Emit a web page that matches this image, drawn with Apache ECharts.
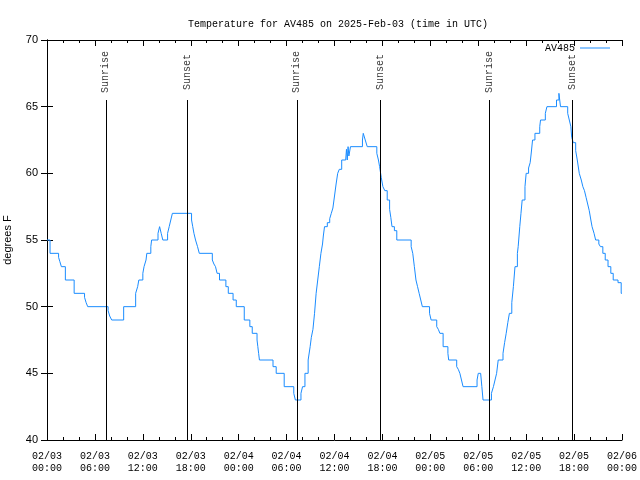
<!DOCTYPE html>
<html>
<head>
<meta charset="utf-8">
<script src="https://cdn.jsdelivr.net/npm/echarts@6/dist/echarts.min.js"></script>
<style>html,body{margin:0;padding:0;background:#fff}#c{width:640px;height:480px}</style>
</head>
<body>
<div id="c"></div>
<script>
// Hours since 2025-02-03 00:00 UTC
var times = [0,0.38,1.45,1.6,1.8,2.3,3.4,4.7,4.9,5.1,7.65,7.85,8.1,9.6,11.1,11.35,11.5,12.0,12.15,12.4,12.5,13.0,13.1,13.9,14.1,14.3,14.5,15.1,15.3,15.5,15.7,
18.1,18.25,18.4,18.6,18.85,19.07,20.7,20.9,21.1,21.3,21.6,22.4,22.7,23.3,23.7,24.7,25.4,25.7,26.3,26.4,26.5,26.6,28.3,28.7,29.7,30.9,31.1,
31.8,32.0,32.3,32.7,32.95,33.1,33.3,33.5,33.7,33.9,34.1,34.3,34.5,34.6,34.75,35.1,35.4,35.6,35.8,36.0,36.2,36.4,36.6,36.9,37.4,37.5,37.6,37.7,37.8,38.0,39.5,39.6,39.85,40.1,
41.3,41.5,41.65,41.85,42.06,42.3,42.6,42.9,43.05,43.2,43.5,43.8,45.6,45.8,46.0,46.2,46.4,46.6,46.8,47.0,47.9,48.1,48.8,49.0,49.2,49.6,50.2,50.3,51.3,51.5,51.7,51.9,52.1,
53.85,54.0,54.3,54.45,54.6,55.65,55.9,56.1,56.3,56.5,57.1,57.3,57.5,57.7,57.9,58.2,58.4,58.6,58.9,59.0,59.2,59.35,59.5,59.85,60.0,60.3,60.5,60.65,60.8,61.1,61.7,61.8,62.4,62.6,63.8,64.1,64.3,
65.2,65.4,65.6,65.7,65.9,66.2,66.4,66.65,66.9,67.1,67.3,67.5,67.7,67.9,68.1,68.25,68.5,68.7,69.1,69.3,69.6,69.9,70.25,70.6,70.9,71.5,71.9,72];
var temps = [55,54,53.7,53.4,53,52,51,50.7,50.3,50,49.7,49.3,49,50,51,51.5,52,52.5,53,53.5,54,54.5,55,55.5,56,55.5,55,55.5,56,56.5,57,
56.5,56,55.5,55,54.5,54,53.5,53.2,53,52.5,52,51.5,51,50.5,50,49,48.5,48,47.5,47,46.5,46,45.5,45,44,43.5,43,
43.5,44,45,46,47,47.7,48.3,49.5,51,52,53,54,54.7,55.3,56,56.3,56.6,57,57.4,58.3,59.2,60,60.3,61,61,61.8,61,62,61.3,62,62.5,63,62.5,62,
61.5,61,60.5,59.7,59,58.7,58,57.3,56.7,56,55.7,55,54.5,54,53,52,51.5,51,50.5,50,49.5,49,48.5,48.3,48,47,46.5,46,45.5,45.3,45,44.5,44,
44.5,45,45,44,43,43.5,44,44.5,45,46,46.5,47.3,48,48.8,49.5,50.3,51.5,53,54,54.5,56,57,58,59,60,60.4,60.8,61.6,62.5,63,63.5,64,64.5,65,65.5,66,65,
64.5,64,63.5,62.7,62.3,61.7,61,60,59.5,59,58.7,58.2,57.7,57.2,56.5,56,55.5,55,54.7,54.5,54,53.5,53,52.5,52,51.8,51,51];

var sunTimes = [7.36, 17.6, 31.28, 41.7, 55.36, 65.8];
var sunLabels = ['Sunrise', 'Sunset', 'Sunrise', 'Sunset', 'Sunrise', 'Sunset'];
var xTickLabels = ['02/03\n00:00','02/03\n06:00','02/03\n12:00','02/03\n18:00','02/04\n00:00','02/04\n06:00','02/04\n12:00','02/04\n18:00','02/05\n00:00','02/05\n06:00','02/05\n12:00','02/05\n18:00','02/06\n00:00'];
var yTicks = [40,45,50,55,60,65,70];

var mono = 'Liberation Mono';
var lineData = times.map(function(t,i){return [t, temps[i]];});
var sunData = sunTimes.map(function(t,i){return {value:[t, 67.6], name: sunLabels[i]};});
var sunLines = sunTimes.map(function(t){return [{coord:[t,40]},{coord:[t,65.5]}];});

function xAxisCfg(pos, showLabel){
  return {
    type:'value', position:pos, min:0, max:72, interval:6,
    axisLine:{show:true, lineStyle:{color:'#000', width:1}},
    axisTick:{show:true, inside:true, length:6, lineStyle:{color:'#000'}},
    minorTick:{show:true, splitNumber:3, length:3, lineStyle:{color:'#000'}},
    splitLine:{show:false},
    axisLabel:{show:showLabel, color:'#000', fontFamily:mono, fontSize:10, lineHeight:12, margin:10,
      formatter:function(v){return xTickLabels[Math.round(v/6)];}}
  };
}
function yAxisCfg(pos, showLabel){
  return {
    type:'value', position:pos, min:40, max:70, interval:5,
    name: showLabel ? 'degrees F' : '', nameLocation:'middle', nameGap:34,
    nameTextStyle:{color:'#000', fontFamily:'Liberation Sans', fontSize:11},
    axisLine:{show:true, lineStyle:{color:'#000', width:1}},
    axisTick:{show:true, inside:true, length:6, lineStyle:{color:'#000'}},
    splitLine:{show:false},
    axisLabel:{show:showLabel, color:'#000', fontFamily:'Liberation Sans', fontSize:11, margin:9,
      formatter:function(v){return yTicks.indexOf(v)>=0 ? String(v) : '';}}
  };
}

var chart = echarts.init(document.getElementById('c'), null, {renderer:'canvas'});
chart.setOption({
  animation:false,
  backgroundColor:'#fff',
  title:{text:'Temperature for AV485 on 2025-Feb-03 (time in UTC)', left:333, top:14, textAlign:'center',
    textStyle:{fontFamily:mono, fontSize:10, fontWeight:'normal', color:'#000'}},
  grid:{left:47, right:18, top:40, bottom:40, containLabel:false, outerBoundsMode:'none'},
  legend:{data:['AV485'], right:25, top:38, align:'right', itemWidth:30, itemHeight:1, itemGap:5,
    icon:'path://M0,0L30,0L30,1L0,1Z',
    itemStyle:{color:'#1a8cff'},
    textStyle:{fontFamily:mono, fontSize:10, color:'#000'}},
  xAxis:[xAxisCfg('bottom', true), xAxisCfg('top', false)],
  yAxis:[yAxisCfg('left', true), yAxisCfg('right', false)],
  series:[
    {name:'AV485', type:'line', step:'end', symbol:'none', data:lineData,
     lineStyle:{color:'#1a8cff', width:1}, itemStyle:{color:'#1a8cff'}},
    {name:'sun', type:'scatter', symbolSize:0, data:sunData, silent:true,
     label:{show:true, position:'inside', rotate:90, formatter:'{b}', fontFamily:mono, fontSize:10, color:'#000'},
     markLine:{silent:true, symbol:['none','none'], label:{show:false},
       lineStyle:{color:'#000', width:1, type:'solid'}, data:sunLines}}
  ]
});
</script>
</body>
</html>
